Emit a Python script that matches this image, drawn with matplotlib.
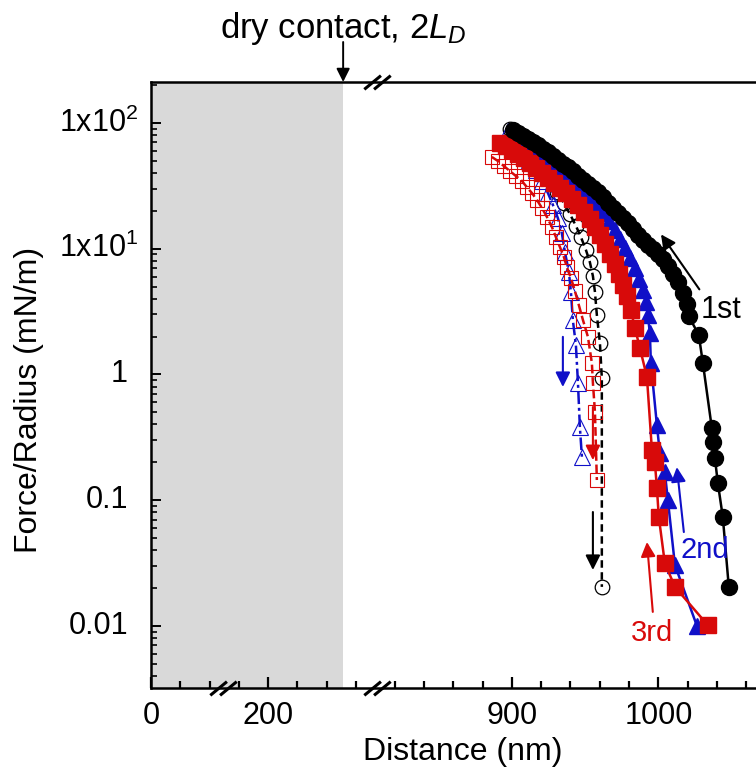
import numpy as np
import matplotlib
matplotlib.use("Agg")
import matplotlib.pyplot as plt
from matplotlib.path import Path
from matplotlib.ticker import FixedLocator, NullFormatter, LogLocator

plt.rcParams['font.family'] = ['Liberation Sans', 'DejaVu Sans']
plt.rcParams['mathtext.fontset'] = 'custom'
plt.rcParams['mathtext.rm'] = 'Liberation Sans'
plt.rcParams['mathtext.it'] = 'Liberation Sans:italic'

# ---------------- data ----------------
app1_x = [900.7, 904.1, 907.5, 910.9, 914.3, 917.7, 921.2, 924.6, 928.0, 931.4, 934.8, 938.2,
          941.6, 945.1, 948.5, 951.9, 955.3, 958.7, 962.1, 965.5, 968.9, 972.4, 975.8, 979.2,
          982.6, 986.0, 989.4, 992.8, 996.2, 999.7, 1003.1, 1006.5, 1009.9, 1013.3, 1016.7,
          1019.5, 1020.8, 1027.6, 1030.4, 1036.5, 1037.2, 1038.6, 1040.6, 1044.0, 1048.1]
app1_y = [88.0, 83.2, 78.8, 74.6, 70.6, 66.8, 62.1, 58.8, 54.7, 50.8, 47.2, 44.7,
          41.5, 37.9, 35.2, 32.7, 30.4, 28.3, 25.8, 23.1, 21.1, 19.2, 17.5, 16.0,
          14.3, 12.8, 11.7, 10.7, 9.99, 9.05, 8.28, 7.28, 6.31, 5.46, 4.45,
          3.64, 2.90, 2.06, 1.23, 0.375, 0.29, 0.216, 0.137, 0.0734, 0.0204]

ret1_x = [898.6, 904.1, 908.9, 913.7, 917.7, 922.5, 926.6, 930.7, 935.5, 939.6, 943.7, 947.1,
          950.5, 953.2, 955.3, 956.7, 958.0, 960.1, 961.4, 961.4]
ret1_y = [89.6, 78.8, 68.0, 58.8, 50.8, 43.9, 35.2, 28.3, 23.1, 18.9, 15.2, 12.4,
          9.8, 7.85, 6.07, 4.53, 2.97, 1.78, 0.936, 0.0204]

app2_x = [900.7, 905.5, 910.2, 915.0, 919.8, 924.6, 929.4, 934.1, 938.9, 943.7, 948.5, 953.2,
          958.0, 962.1, 966.2, 970.3, 973.7, 977.1, 980.5, 984.0, 986.7, 989.4, 991.5, 992.8,
          994.2, 994.9, 999.0, 1001.0, 1004.4, 1006.5, 1011.3, 1026.3]
app2_y = [83.2, 74.6, 66.8, 61.0, 55.6, 50.8, 45.5, 40.7, 36.5, 32.1, 28.3, 24.9,
          21.9, 19.2, 16.6, 14.1, 12.0, 10.1, 8.43, 7.03, 5.74, 4.69, 3.77, 2.97,
          2.13, 1.23, 0.396, 0.237, 0.167, 0.100, 0.0305, 0.0100]

ret2_x = [897.3, 902.0, 906.8, 911.6, 916.4, 920.5, 924.6, 928.0, 931.4, 934.1, 936.2, 938.9,
          940.3, 941.6, 943.7, 945.1, 946.4, 947.8]
ret2_y = [86.4, 73.2, 61.0, 50.8, 42.3, 34.6, 27.7, 22.3, 17.5, 13.3, 9.41, 6.53,
          4.53, 2.71, 1.71, 0.855, 0.382, 0.220]

app3_x = [891.8, 895.9, 900.0, 904.1, 908.2, 912.3, 916.4, 920.5, 924.6, 928.7, 932.8, 936.9,
          941.0, 945.1, 949.1, 953.2, 956.7, 960.1, 963.5, 966.9, 970.3, 973.0, 975.8, 978.5,
          981.2, 984.0, 987.4, 992.2, 995.6, 997.6, 999.0, 1000.3, 1004.4, 1011.3, 1033.8]
app3_y = [69.3, 65.6, 61.0, 56.7, 52.6, 48.0, 43.9, 40.0, 36.5, 33.3, 30.4, 27.7,
          24.9, 22.3, 19.6, 17.2, 14.9, 12.9, 10.9, 9.05, 7.55, 6.29, 5.14, 4.20,
          3.25, 2.34, 1.62, 0.953, 0.25, 0.201, 0.125, 0.0734, 0.0316, 0.0204, 0.0101]

ret3_x = [886.3, 890.4, 894.5, 898.6, 902.7, 906.8, 910.2, 913.7, 917.1, 920.5, 923.9, 927.3,
          930.0, 932.8, 935.5, 937.5, 940.3, 943.0, 945.7, 948.5, 951.9, 954.6, 955.3, 956.7, 958.0]
ret3_y = [53.7, 49.9, 45.5, 41.5, 37.9, 34.6, 30.9, 27.7, 24.4, 21.1, 17.9, 14.9,
          12.4, 10.3, 8.59, 7.15, 5.85, 4.61, 3.56, 2.71, 1.99, 1.23, 0.86, 0.502, 0.1445]

dry_contact = 328.0
x_major = [0, 200, 900, 1000]
x_major_labels = ['0', '200', '900', '1000']
x_minor = [50, 100, 150, 250, 300, 350] + list(range(820, 1070, 20))
y_major = [100, 10, 1, 0.1, 0.01]
y_major_labels = [r'1x10$^{2}$', r'1x10$^{1}$', '1', '0.1', '0.01']

BLACK = 'black'
BLUE = '#1010c8'
RED = '#d80a0a'

# ---------------- broken x scale ----------------
seg_x = [-1e4, 0.0, 386.0, 808.0, 1e4]
seg_u = [-1e4 * 0.586, 0.0, 386.0 * 0.586, 386.0 * 0.586 + 0.05,
         386.0 * 0.586 + 0.05 + (1e4 - 808.0) * 1.465]

def fwd(x):
    return np.interp(x, seg_x, seg_u)

def inv(u):
    return np.interp(u, seg_u, seg_x)

AX_W = 609.0
fig = plt.figure(figsize=(7.56, 7.73), dpi=100)
ax = fig.add_axes([151 / 756, (773 - 688) / 773, AX_W / 756, 606 / 773])
ax.set_xscale('function', functions=(fwd, inv))
ax.set_yscale('log')
ax.set_xlim(0, 1069.4)
ax.set_ylim(0.0032, 212)

ax.axvspan(0, dry_contact, color='#d9d9d9', zorder=0, lw=0)

# retraction (open symbols)
ax.plot(ret1_x, ret1_y, ls=(0, (3.0, 1.8)), color=BLACK, lw=1.8, marker='o', ms=10.5,
        mfc='none', mec=BLACK, mew=0.9, zorder=3)
ax.plot(ret2_x, ret2_y, ls=(0, (5, 1.5, 1.2, 1.5)), color=BLUE, lw=1.8, marker='^', ms=11,
        mfc='none', mec=BLUE, mew=0.8, zorder=3)
ax.plot(ret3_x, ret3_y, ls=(0, (3.5, 1.5)), color=RED, lw=1.8, marker='s', ms=10.5,
        mfc='none', mec=RED, mew=0.8, zorder=3)
# approach (filled symbols)
ax.plot(app2_x, app2_y, '-', color=BLUE, lw=1.8, marker='^', ms=12, mfc=BLUE, mec=BLUE, zorder=4)
ax.plot(app3_x, app3_y, '-', color=RED, lw=1.8, marker='s', ms=11.5, mfc=RED, mec=RED, zorder=5)
ax.plot(app1_x, app1_y, '-', color=BLACK, lw=1.8, marker='o', ms=11.5, mfc=BLACK, mec=BLACK, zorder=6)

# ticks
ax.xaxis.set_major_locator(FixedLocator(x_major))
ax.set_xticklabels(x_major_labels)
ax.xaxis.set_minor_locator(FixedLocator(x_minor))
ax.xaxis.set_minor_formatter(NullFormatter())
ax.yaxis.set_major_locator(FixedLocator(y_major))
ax.yaxis.set_major_formatter(NullFormatter())
ax.yaxis.set_minor_locator(LogLocator(base=10, subs=np.arange(2, 10), numticks=20))
ax.yaxis.set_minor_formatter(NullFormatter())
ax.tick_params(axis='both', which='both', direction='in', top=False, right=False)
ax.tick_params(axis='x', which='major', length=8, width=1.6, labelsize=22, pad=9)
ax.tick_params(axis='x', which='minor', length=5, width=1.6)
ax.tick_params(axis='y', which='major', length=7, width=1.4)
ax.tick_params(axis='y', which='minor', length=4.5, width=1.2)
for s in ax.spines.values():
    s.set_linewidth(1.8)

# y tick labels, right aligned (superscripts overhang like the original)
yt = ax.get_yaxis_transform()
for val, lab in zip(y_major, y_major_labels):
    right_px = 138 if '$' in lab else 128
    ax.text((right_px - 151) / AX_W, val, lab, transform=yt, fontsize=22,
            ha='right', va='center', clip_on=False)

ax.set_xlabel('Distance (nm)', fontsize=23)
ax.set_ylabel('Force/Radius (mN/m)', fontsize=23)
ax.xaxis.set_label_coords(0.512, -0.081)
ax.yaxis.set_label_coords(-0.175, 0.475)

# break marks
brk = Path([(-1.0, -0.52), (0.26, 0.52), (-0.26, -0.52), (1.0, 0.52)],
           [Path.MOVETO, Path.LINETO, Path.MOVETO, Path.LINETO])
xt = ax.get_xaxis_transform()
for bx, by in [(123, 0.0), (597, 0.0), (597, 1.0)]:
    ax.plot([bx], [by], transform=xt, marker=brk, ms=19, mew=2.2, color='black',
            clip_on=False, zorder=10, ls='none')

# arrows
def arrow(tail, tip, color):
    ax.annotate('', xy=tip, xytext=tail,
                arrowprops=dict(arrowstyle='-|>', color=color, lw=1.5, mutation_scale=22,
                                shrinkA=0, shrinkB=0), zorder=8)

arrow((1028.0, 4.75), (1001.8, 13.0), BLACK)
arrow((955.3, 0.0804), (955.3, 0.0278), BLACK)
arrow((934.8, 1.99), (934.8, 0.794), BLUE)
arrow((955.3, 0.550), (955.3, 0.208), RED)
arrow((1017.4, 0.0557), (1012.6, 0.183), BLUE)
arrow((996.2, 0.0129), (992.2, 0.0464), RED)

ax.text(1042.5, 3.25, '1st', fontsize=22, color=BLACK, ha='center', va='center', zorder=9)
ax.text(1031.7, 0.0401, '2nd', fontsize=21, color=BLUE, ha='center', va='center', zorder=9)
ax.text(995.6, 0.00877, '3rd', fontsize=21, color=RED, ha='center', va='center', zorder=9)

# dry contact annotation
ax.annotate('', xy=(dry_contact, 1.0), xytext=(dry_contact, 1.066),
            xycoords=('data', 'axes fraction'), textcoords=('data', 'axes fraction'),
            arrowprops=dict(arrowstyle='-|>', color='black', lw=1.4, mutation_scale=20,
                            shrinkA=0, shrinkB=0), annotation_clip=False)
ax.text(dry_contact, 1.088, r'dry contact, 2$L_{D}$', transform=xt, fontsize=25,
        ha='center', va='center', clip_on=False)

fig.savefig('out.png', dpi=100)
